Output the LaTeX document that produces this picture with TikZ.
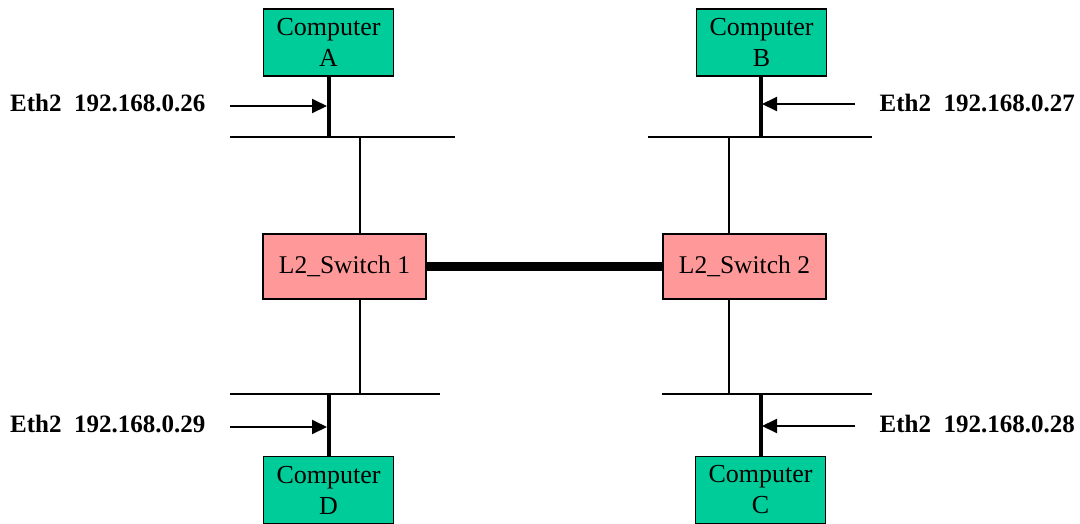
\documentclass[tikz,border=0pt]{standalone}
\usepackage{fontspec}
\setmainfont{Liberation Serif}
\usetikzlibrary{arrows.meta}
\definecolor{compgreen}{HTML}{00CC99}
\definecolor{swpink}{HTML}{FF9999}
\begin{document}
\begin{tikzpicture}[x=1pt,y=-1pt,
  comp/.style={draw=black,line width=1.5pt,fill=compgreen,minimum width=130pt,minimum height=67pt,inner sep=0pt,align=center,font=\fontsize{26}{31}\selectfont},
  sw/.style={draw=black,line width=1.5pt,fill=swpink,minimum width=163pt,minimum height=65pt,inner sep=0pt,font=\fontsize{25.5}{28}\selectfont},
  bus/.style={line width=2pt},
  drop/.style={line width=4pt},
  thin/.style={line width=2pt},
  trunk/.style={line width=9pt},
  ptr/.style={line width=2pt,-{Triangle[length=15pt,width=14pt]}},
  lab/.style={inner sep=0pt,font=\bfseries\fontsize{25}{28}\selectfont}]
\useasboundingbox (0,0) rectangle (1080,523);
% nodes
\node[comp] (A) at (328.5,42.5) {Computer\\A};
\node[comp] (B) at (761.5,42.5) {Computer\\B};
\node[comp] (D) at (328.5,490) {Computer\\D};
\node[comp] (C) at (760.5,490) {Computer\\C};
\node[sw] (S1) at (344.5,266.5) {L2\_Switch 1};
\node[sw] (S2) at (744.5,266.5) {L2\_Switch 2};
% bus coordinates
\coordinate (t1l) at (230,137); \coordinate (t1r) at (455,137);
\coordinate (t2l) at (648,137); \coordinate (t2r) at (872,137);
\coordinate (b1l) at (230,394); \coordinate (b1r) at (440,394);
\coordinate (b2l) at (662,394); \coordinate (b2r) at (872,394);
\draw[bus] (t1l) -- (t1r);
\draw[bus] (t2l) -- (t2r);
\draw[bus] (b1l) -- (b1r);
\draw[bus] (b2l) -- (b2r);
% drops
\coordinate (dA) at (328.5,138); \coordinate (dB) at (761,138);
\coordinate (dD) at (328.5,393); \coordinate (dC) at (760.5,393);
\draw[drop] (A.south) -- (dA);
\draw[drop] (B.south -| dB) -- (dB);
\draw[drop] (D.north) -- (dD);
\draw[drop] (C.north -| dC) -- (dC);
% thin links bus - switch
\coordinate (u1) at (360,137); \coordinate (u2) at (729,137);
\coordinate (l1) at (360,394); \coordinate (l2) at (729,394);
\draw[thin] (u1) -- (u1 |- S1.north);
\draw[thin] (u2) -- (u2 |- S2.north);
\draw[thin] (l1) -- (l1 |- S1.south);
\draw[thin] (l2) -- (l2 |- S2.south);
% trunk
\draw[trunk] (S1.east) -- (S2.west);
% pointers
\coordinate (pA) at (230,106); \coordinate (pAe) at (327,106);
\coordinate (pB) at (855,104); \coordinate (pBe) at (762,104);
\coordinate (pD) at (230,427); \coordinate (pDe) at (327,427);
\coordinate (pC) at (855,426); \coordinate (pCe) at (762,426);
\draw[ptr] (pA) -- (pAe);
\draw[ptr] (pB) -- (pBe);
\draw[ptr] (pD) -- (pDe);
\draw[ptr] (pC) -- (pCe);
% labels
\node[lab,anchor=base west] (LA) at (10,111) {Eth2\ \ 192.168.0.26};
\node[lab,anchor=base east] (LB) at (1075,111) {Eth2\ \ 192.168.0.27};
\node[lab,anchor=base west] (LD) at (10,432) {Eth2\ \ 192.168.0.29};
\node[lab,anchor=base east] (LC) at (1075,432) {Eth2\ \ 192.168.0.28};
\end{tikzpicture}
\end{document}
